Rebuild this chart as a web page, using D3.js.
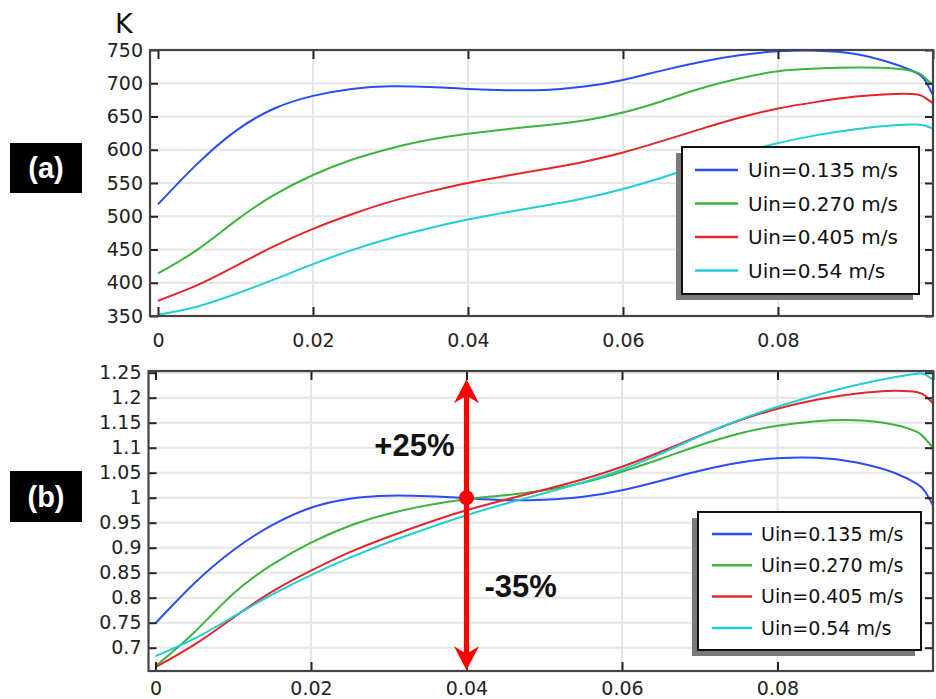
<!DOCTYPE html>
<html>
<head>
<meta charset="utf-8">
<script src="https://cdn.jsdelivr.net/npm/d3@7"></script>
<style>
html,body{margin:0;padding:0;background:#fff;}
svg{display:block;}
</style>
</head>
<body>
<svg id="chart" width="936" height="699"></svg>
<script>
// ---------- DATA ----------
const xVals = [0,0.005,0.01,0.015,0.02,0.025,0.03,0.035,0.04,0.045,0.05,0.055,0.06,0.065,0.07,0.075,0.08,0.085,0.09,0.095,0.098,0.099,0.1];
const seriesNames = ["Uin=0.135 m/s","Uin=0.270 m/s","Uin=0.405 m/s","Uin=0.54 m/s"];
const seriesColors = ["#2b4cf6","#3db43d","#e2262a","#22cdd4"];

// (a) temperature, K
const tempU135 = [518,578,628,662,681,691.5,695.5,694.5,691.5,689.5,690,695,705,719,732,742,748,749,744,729,715,704,682];
const tempU270 = [414,449,493,532,562,585,602,615,624,631,637,644,656,673,692,707,718,722,723.5,722,716,708,697];
const tempU405 = [373,396,425,455,481,503,522,537,550,561,571,582,596,613,631,648,662,672,680,684,683,678,670];
const tempU540 = [352,364,383,405,428,449,467,482,495,506,516,527,541,558,577,595,610,622,631,637,638,636,632];

// (b) normalised temperature
const normU135 = [0.749,0.829,0.895,0.945,0.980,0.998,1.004,1.003,0.999,0.995,0.996,1.002,1.015,1.034,1.054,1.070,1.079,1.080,1.071,1.050,1.027,1.012,0.985];
const normU270 = [0.663,0.731,0.808,0.866,0.910,0.944,0.968,0.985,0.997,1.005,1.015,1.030,1.052,1.078,1.105,1.128,1.144,1.153,1.155,1.146,1.131,1.118,1.100];
const normU405 = [0.661,0.706,0.760,0.812,0.854,0.891,0.922,0.950,0.975,0.996,1.016,1.037,1.062,1.092,1.124,1.154,1.178,1.196,1.208,1.214,1.211,1.204,1.189];
const normU540 = [0.683,0.718,0.762,0.806,0.845,0.880,0.911,0.939,0.965,0.988,1.009,1.031,1.056,1.088,1.123,1.155,1.182,1.205,1.225,1.241,1.248,1.246,1.236];

// tick labels
const xTicks = [0,0.02,0.04,0.06,0.08];
const xTickLabels = ["0","0.02","0.04","0.06","0.08"];
const tempTicks = [350,400,450,500,550,600,650,700,750];
const normTicks = [0.7,0.75,0.8,0.85,0.9,0.95,1,1.05,1.1,1.15,1.2,1.25];
const normTickLabels = ["0.7","0.75","0.8","0.85","0.9","0.95","1","1.05","1.1","1.15","1.2","1.25"];

// annotations (panel b)
const arrowX = 0.04, arrowTop = 1.237, arrowBottom = 0.655, markerY = 1.0;
const annoPlus = {text:"+25%", y:1.083};
const annoMinus = {text:"-35%", y:0.801};

// ---------- DRAW ----------
const svg = d3.select("#chart");
const FONT = "DejaVu Sans, Verdana, sans-serif";

function drawPanel(cfg){
  const g = svg.append("g");
  const x = d3.scaleLinear().domain([0,0.1]).range([cfg.x0, cfg.x1]);
  const y = d3.scaleLinear().domain(cfg.yDomain).range(cfg.yRange);
  const L = cfg.frameLeft, R = cfg.x1, T = cfg.frameTop, B = cfg.frameBottom;

  // grid
  g.append("g").selectAll("line").data(cfg.yTicks).join("line")
    .attr("x1",L).attr("x2",R).attr("y1",d=>y(d)).attr("y2",d=>y(d))
    .attr("stroke","#e6e6e6").attr("stroke-width",2);
  g.append("g").selectAll("line").data(xTicks.slice(1)).join("line")
    .attr("x1",d=>x(d)).attr("x2",d=>x(d)).attr("y1",T).attr("y2",B)
    .attr("stroke","#e6e6e6").attr("stroke-width",2);

  // curves
  const clipId = "clip"+cfg.id;
  svg.append("defs").append("clipPath").attr("id",clipId).append("rect")
    .attr("x",L).attr("y",T-2).attr("width",R-L+1).attr("height",B-T+2);
  const line = d3.line().x(d=>x(d[0])).y(d=>y(d[1])).curve(d3.curveNatural);
  const cg = g.append("g").attr("clip-path",`url(#${clipId})`);
  cfg.series.forEach((s,i)=>{
    cg.append("path").datum(xVals.map((xv,j)=>[xv,s[j]]))
      .attr("d",line).attr("fill","none")
      .attr("stroke",seriesColors[i]).attr("stroke-width",2);
  });

  // axes
  const yAxis = d3.axisLeft(y).tickValues(cfg.yTicks)
    .tickFormat((d,i)=>cfg.yLabels[i]).tickSizeInner(-8).tickSizeOuter(0).tickPadding(7);
  const ya = g.append("g").attr("transform",`translate(${L},0)`).call(yAxis);
  ya.select(".domain").remove();
  ya.selectAll("line").attr("stroke","#222").attr("stroke-width",2);
  ya.selectAll("text").attr("font-family",FONT).attr("font-size",19).attr("fill","#222");

  const yR = g.append("g").attr("transform",`translate(${R},0)`)
    .call(d3.axisRight(y).tickValues(cfg.yTicks).tickFormat("").tickSizeInner(-8).tickSizeOuter(0));
  yR.select(".domain").remove();
  yR.selectAll("line").attr("stroke","#222").attr("stroke-width",2);

  const xAxis = d3.axisBottom(x).tickValues(xTicks)
    .tickFormat((d,i)=>xTickLabels[i]).tickSizeInner(-9).tickSizeOuter(0).tickPadding(cfg.xPad);
  const xa = g.append("g").attr("transform",`translate(0,${B})`).call(xAxis);
  xa.select(".domain").remove();
  xa.selectAll("line").attr("stroke","#222").attr("stroke-width",2);
  xa.selectAll("text").attr("font-family",FONT).attr("font-size",19).attr("fill","#222");

  const xt = g.append("g").attr("transform",`translate(0,${T})`)
    .call(d3.axisTop(x).tickValues(xTicks.concat([0.1])).tickFormat("").tickSizeInner(-9).tickSizeOuter(0));
  xt.select(".domain").remove();
  xt.selectAll("line").attr("stroke","#222").attr("stroke-width",2);

  // frame
  g.append("rect").attr("x",L).attr("y",T).attr("width",R-L).attr("height",B-T)
    .attr("fill","none").attr("stroke","#444").attr("stroke-width",2.2);

  // legend
  const lg = cfg.legend;
  g.append("rect").attr("x",lg.x-lg.sh).attr("y",lg.y+lg.sh).attr("width",lg.w).attr("height",lg.h)
    .attr("fill","#7a7a7a");
  g.append("rect").attr("x",lg.x).attr("y",lg.y).attr("width",lg.w).attr("height",lg.h)
    .attr("fill","#fff").attr("stroke","#111").attr("stroke-width",2);
  seriesNames.forEach((n,i)=>{
    const cy = lg.y + lg.first + i*lg.step;
    g.append("line").attr("x1",lg.x+lg.lx0).attr("x2",lg.x+lg.lx1).attr("y1",cy).attr("y2",cy)
      .attr("stroke",seriesColors[i]).attr("stroke-width",2.5);
    g.append("text").attr("x",lg.x+lg.tx).attr("y",cy+lg.fs*0.36)
      .attr("font-family",FONT).attr("font-size",lg.fs).attr("fill","#111").text(n);
  });

  // panel tag
  g.append("rect").attr("x",cfg.tag.x).attr("y",cfg.tag.y).attr("width",72).attr("height",cfg.tag.h).attr("fill","#000");
  g.append("text").attr("x",cfg.tag.x+36).attr("y",cfg.tag.y+cfg.tag.h/2+10)
    .attr("text-anchor","middle").attr("font-family","Liberation Sans, Arial, sans-serif")
    .attr("font-weight","bold").attr("font-size",29).attr("fill","#fff").text(cfg.tag.text);

  return {x,y,g};
}

const panelA = drawPanel({
  id:"a", x0:158, x1:933, frameLeft:150, frameTop:50, frameBottom:316,
  yDomain:[350,750], yRange:[316,50], yTicks:tempTicks, yLabels:tempTicks.map(String),
  xPad:18, series:[tempU135,tempU270,tempU405,tempU540],
  legend:{x:682,y:147,w:237,h:147,sh:6,first:23,step:33.5,lx0:13,lx1:56,tx:66,fs:20},
  tag:{x:10,y:143,h:50,text:"(a)"}
});
panelA.g.append("text").attr("x",115).attr("y",33).attr("font-family",FONT)
  .attr("font-size",27).attr("fill","#111").text("K");

const panelB = drawPanel({
  id:"b", x0:155.5, x1:933, frameLeft:148.5, frameTop:371, frameBottom:671,
  yDomain:[0.7,1.25], yRange:[647.7,372.7], yTicks:normTicks, yLabels:normTickLabels,
  xPad:11, series:[normU135,normU270,normU405,normU540],
  legend:{x:698,y:512,w:223,h:138,sh:6,first:22,step:31.3,lx0:14,lx1:54,tx:63,fs:19},
  tag:{x:10,y:471,h:51,text:"(b)"}
});

// annotation arrow
(function(){
  const g = panelB.g, x = panelB.x, y = panelB.y;
  const ax = x(arrowX), yt = y(arrowTop), yb = y(arrowBottom);
  const hw = 12.5, hl = 24, notch = 6, sw = 2.6;
  const path = [
    [ax, yt], [ax+hw, yt+hl], [ax+sw, yt+hl-notch],
    [ax+sw, yb-hl+notch], [ax+hw, yb-hl], [ax, yb], [ax-hw, yb-hl],
    [ax-sw, yb-hl+notch], [ax-sw, yt+hl-notch], [ax-hw, yt+hl]
  ];
  g.append("path").attr("d", d3.line()(path)+"Z").attr("fill","#f00");
  g.append("circle").attr("cx",ax).attr("cy",y(markerY)).attr("r",7.5).attr("fill","#f00");
  g.append("text").attr("x",ax-12).attr("y",y(annoPlus.y)).attr("text-anchor","end")
    .attr("font-family","Liberation Sans, Arial, sans-serif").attr("font-weight","bold")
    .attr("font-size",31).attr("fill","#111").text(annoPlus.text);
  g.append("text").attr("x",ax+18).attr("y",y(annoMinus.y))
    .attr("font-family","Liberation Sans, Arial, sans-serif").attr("font-weight","bold")
    .attr("font-size",31).attr("fill","#111").text(annoMinus.text);
})();
</script>
</body>
</html>
